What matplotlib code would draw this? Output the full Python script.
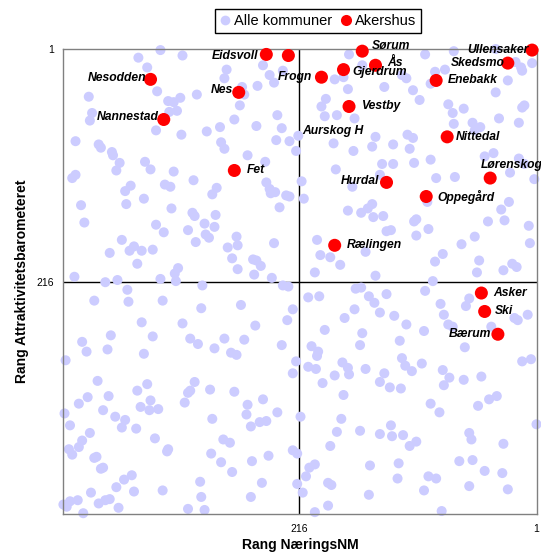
import matplotlib
matplotlib.use("Agg")
import matplotlib.pyplot as plt
from matplotlib.lines import Line2D

plt.rcParams['font.family'] = ['Liberation Sans', 'DejaVu Sans']

# ---------------- data (ranks) ----------------
all_x = [342, 362, 354, 407, 345, 335, 330, 324, 404, 406, 334, 327, 346, 419, 398, 396, 386, 385, 379, 356, 323,
         422, 419, 382, 351, 330, 369, 374, 357, 338, 333, 414, 373, 332, 411, 346, 339, 377, 388, 370, 366, 359, 349, 363, 420, 326, 329, 392, 381, 342, 328,
         322, 282, 284, 249, 243, 239, 231, 309, 268, 254, 266, 270, 236, 232, 217, 275, 255, 288, 300, 287, 284, 237, 225, 219, 263, 247,
         312, 291, 295, 246, 243, 238, 242, 228, 225, 234, 313, 311, 292, 302, 293, 317, 301, 298, 310, 273, 272, 281, 239, 277, 258, 255, 251, 272, 257, 241, 231, 226,
         171, 159, 184, 176, 172, 139, 123, 119, 113, 192, 196, 193, 182, 166, 185, 167, 147, 150, 131, 118, 113, 116, 141, 131, 112,
         214, 212, 183, 168, 143, 172, 160, 154, 150, 149, 140, 110, 112, 137, 133, 110, 200, 197, 188, 179, 202, 156, 147,
         102, 76, 38, 20, 15, 14, 5, 93, 84, 97, 27, 38, 107, 81, 77, 67, 14, 12, 35, 59, 57, 52, 76, 17, 97, 48, 40, 17, 12,
         92, 75, 25, 3, 100, 99, 45, 33, 26, 30, 8, 7, 57, 69, 86, 93, 53, 55, 23, 19, 31, 95,
         372, 371, 402, 340, 304, 305, 269, 222, 208, 198, 165, 160, 153, 148, 137, 102, 88, 65, 62, 166, 175, 143, 130, 85, 9,
         359, 322, 256, 227, 119, 81, 77, 21, 18, 42, 387, 413, 409, 390, 349, 315, 308, 284, 266, 293, 278, 273, 232, 357,
         193, 159, 103, 125, 161, 66, 205, 199, 200, 428, 219, 222, 208, 201, 177, 172, 156, 184, 171, 139, 143, 123, 120, 114,
         105, 134, 124, 86, 80, 85, 67, 51, 14, 6, 195, 176, 399, 363, 354, 317, 315, 311, 297, 275, 408, 389, 416, 351, 352,
         344, 360, 320, 394, 429, 383, 374, 377, 364, 424, 406, 295, 263, 264, 249, 236, 252, 246, 260, 215, 178, 182, 161, 143,
         133, 132, 122, 110, 116, 97, 89, 54, 44, 37, 1, 62, 60, 31, 71, 59, 48, 32, 27, 62, 87, 99, 92, 103, 126, 127, 152, 153,
         188, 190, 187, 190, 202, 210, 207, 202, 213, 218, 222, 218, 244, 259, 250, 260, 277, 287, 285, 279, 296, 306, 305, 302,
         317, 340, 335, 336, 368, 375, 382, 366, 380, 396, 394, 400, 402, 392, 388, 398, 405, 416, 425, 422, 413, 417, 424, 427,
         430, 412, 347]
all_y = [2, 9, 18, 45, 40, 49, 50, 46, 60, 67, 59, 58, 76, 86, 89, 92, 96, 99, 106, 105, 80,
         120, 117, 113, 112, 114, 127, 132, 139, 126, 128, 145, 144, 148, 161, 163, 170, 177, 189, 187, 183, 187, 186, 199, 211, 203, 208, 216, 214, 213, 215,
         7, 20, 28, 16, 25, 32, 21, 43, 36, 35, 43, 53, 62, 74, 81, 66, 72, 73, 77, 87, 93, 85, 86, 95, 99, 105,
         122, 129, 135, 124, 130, 133, 134, 136, 137, 147, 152, 155, 154, 162, 165, 168, 172, 175, 179, 174, 182, 184, 180, 194, 195, 196, 201, 204, 209, 212, 219, 220,
         6, 16, 29, 27, 38, 36, 25, 28, 39, 47, 54, 63, 62, 65, 88, 95, 82, 91, 89, 80, 83, 93, 107, 107, 106,
         123, 139, 112, 128, 117, 150, 152, 148, 144, 156, 155, 158, 160, 169, 168, 173, 177, 191, 193, 200, 207, 188, 210,
         6, 3, 1, 13, 18, 21, 14, 22, 20, 33, 30, 41, 48, 52, 60, 56, 55, 53, 65, 69, 76, 73, 70, 69, 103, 100, 97, 102, 107,
         120, 119, 115, 121, 142, 167, 160, 149, 142, 159, 164, 180, 174, 181, 190, 197, 196, 207, 199, 202, 205, 215,
         223, 234, 233, 233, 219, 240, 237, 241, 230, 229, 222, 221, 229, 235, 227, 224, 236, 238, 231, 241, 249, 244, 247, 246, 246,
         253, 254, 256, 251, 255, 255, 257, 249, 251, 257, 265, 271, 280, 278, 266, 268, 273, 268, 269, 277, 281, 283, 274, 282,
         260, 263, 261, 270, 274, 276, 275, 280, 284, 288, 289, 300, 294, 296, 290, 295, 296, 302, 301, 300, 308, 286, 293, 298,
         291, 313, 314, 297, 304, 311, 306, 303, 289, 287, 309, 320, 307, 316, 310, 318, 316, 308, 315, 317, 322, 321, 328, 325, 334,
         333, 331, 327, 334, 337, 340, 343, 350, 351, 348, 355, 342, 329, 338, 324, 336, 345, 344, 349, 340, 342, 354, 353, 356,
         348, 358, 357, 363, 367, 328, 336, 330, 324, 321, 347, 355, 361, 365, 381, 380, 390, 392, 407, 404, 427, 395, 397, 408, 383, 397, 385, 412,
         367, 401, 403, 422, 428, 395, 387, 384, 410, 402, 371, 374, 376, 381, 401, 414, 391, 382, 361, 364, 374, 400, 414, 426,
         425, 408, 370, 372, 394, 398, 405, 409, 424, 388, 387, 377, 378, 417, 416, 420, 410, 368, 370, 375, 362, 417, 418, 423,
         421, 429, 360]

names = ['Ullensaker', 'Skedsmo', 'Enebakk', 'Nittedal', 'Lørenskog', 'Oppegård', 'Sørum', 'Ås',
         'Gjerdrum', 'Frogn', 'Vestby', 'Hurdal', 'Rælingen', 'Eidsvoll', 'Aurskog H', 'Nesodden',
         'Nannestad', 'Nes', 'Fet', 'Asker', 'Ski', 'Bærum']
ak_x = [5, 27, 92, 82, 43, 101, 159, 147, 176, 196, 171, 137, 184, 246, 226, 351, 339, 271, 275, 51, 48, 36]
ak_y = [2, 14, 30, 82, 120, 137, 3, 16, 20, 27, 54, 124, 182, 6, 7, 29, 66, 41, 113, 226, 243, 264]

x_ticks = [216, 1]
y_ticks = [1, 216]
n_rank = 430
mid_rank = 216

# label offsets in pixels (dx right, dy down) and alignment
label_style = {
    'Ullensaker': (-3, 0, 'right'), 'Skedsmo': (-3.5, 0, 'right'), 'Enebakk': (11.5, 0, 'left'),
    'Nittedal': (9, 0, 'left'), 'Lørenskog': (-9, -13, 'left'), 'Oppegård': (11.5, 0, 'left'),
    'Sørum': (10, -5, 'left'), 'Ås': (12, -2, 'left'), 'Gjerdrum': (9, 2, 'left'),
    'Frogn': (-9, 0, 'right'), 'Vestby': (12.5, 0, 'left'), 'Hurdal': (-7.5, -1, 'right'),
    'Rælingen': (12, 0, 'left'), 'Eidsvoll': (-8.5, 1.5, 'right'), 'Aurskog H': (13.5, 75, 'left'),
    'Nesodden': (-4.5, -1.5, 'right'), 'Nannestad': (-5, -2, 'right'), 'Nes': (-5.5, -2, 'right'),
    'Fet': (12, 0, 'left'), 'Asker': (11.5, 0, 'left'), 'Ski': (10.5, 0, 'left'), 'Bærum': (-7, 0, 'right'),
}

W, H = 541, 554
fig = plt.figure(figsize=(W / 100, H / 100), dpi=100)
L, R, T, B = 63.4, 536.5, 49, 514.3
ax = fig.add_axes([L / W, 1 - B / H, (R - L) / W, (B - T) / H])
ax.set_xlim(n_rank, 1)
ax.set_ylim(n_rank, 1)

ax.axvline(mid_rank, color='black', lw=1.0, zorder=1.5)
ax.axhline(mid_rank, color='black', lw=1.0, zorder=1.5)

ax.scatter(all_x, all_y, s=52, c='#CCCCFF', edgecolors='none', clip_on=False, zorder=2)
ax.scatter(ak_x, ak_y, s=88, c='#FF0000', edgecolors='none', clip_on=False, zorder=4)

for n, x, y in zip(names, ak_x, ak_y):
    dx, dy, ha = label_style[n]
    ax.annotate(n, (x, y), xytext=(dx * 0.72, -dy * 0.72), textcoords='offset points',
                ha=ha, va='center', fontsize=8.7, fontweight='bold', fontstyle='italic',
                color='black', zorder=5, annotation_clip=False)

for sp in ax.spines.values():
    sp.set_color('#808080')
    sp.set_linewidth(1.0)

ax.set_xticks(x_ticks)
ax.set_yticks(y_ticks)
ax.set_xticklabels([str(v) for v in x_ticks])
ax.set_yticklabels([str(v) for v in y_ticks])
ax.tick_params(length=0, labelsize=7.5, pad=7)

fig.text(300 / W, 1 - 545 / H, 'Rang NæringsNM', ha='center', va='center',
         fontsize=10, fontweight='bold')
fig.text(22 / W, 1 - 281.5 / H, 'Rang Attraktivitetsbarometeret', ha='center', va='center',
         rotation=90, fontsize=10, fontweight='bold')

handles = [Line2D([], [], marker='o', ls='none', markersize=7, markerfacecolor='#CCCCFF',
                  markeredgecolor='none'),
           Line2D([], [], marker='o', ls='none', markersize=8, markerfacecolor='#FF0000',
                  markeredgecolor='none')]
leg = fig.legend(handles, ['Alle kommuner', 'Akershus'], loc='center',
                 bbox_to_anchor=(318 / W, 1 - 21 / H), ncol=2, fontsize=10.5,
                 frameon=True, fancybox=False, edgecolor='black', framealpha=1,
                 handlelength=0.7, handletextpad=0.3, columnspacing=0.55, borderpad=0.35)
leg.get_frame().set_linewidth(1.0)

fig.savefig('out.png', dpi=100)
